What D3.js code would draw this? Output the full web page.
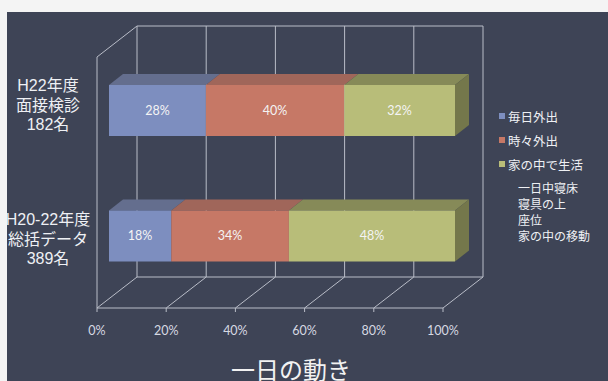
<!DOCTYPE html>
<html>
<head>
<meta charset="utf-8">
<script src="https://cdn.jsdelivr.net/npm/d3@7"></script>
<style>
  html, body { margin: 0; padding: 0; background: #f4f4f4; }
  svg { display: block; }
</style>
</head>
<body>
<svg id="chart" width="608" height="381"></svg>
<script>
// Daily activity: share of each group (stacked to 100%)
const categories = ["H22年度\n面接検診\n182名", "H20-22年度\n総括データ\n389名"];
const seriesNames = ["毎日外出", "時々外出", "家の中で生活"];
const everyDayOut = [0.28, 0.18];
const sometimesOut = [0.40, 0.34];
const stayHome = [0.32, 0.48];
const extraLegend = ["一日中寝床", "寝具の上", "座位", "家の中の移動"];
const tickValues = [0, 0.2, 0.4, 0.6, 0.8, 1.0];
const title = "一日の動き";

const seriesValues = [everyDayOut, sometimesOut, stayHome];
const frontColors = ["#7d8ebf", "#c67866", "#b8bd79"];
const topColors = ["#646e8e", "#a0665a", "#868a58"];
const sideColor = "#74774b";

const svg = d3.select("#chart");
const W = 608, H = 381;

// slide background
svg.append("rect").attr("width", W).attr("height", H).attr("fill", "#f4f4f4");
svg.append("rect").attr("x", 7).attr("y", 12).attr("width", W - 7).attr("height", H - 12)
  .attr("fill", "#3e4456");

// oblique 3D projection: front plane scales + depth vector
const x = d3.scaleLinear().domain([0, 1]).range([97, 443]);
const y = d3.scaleBand().domain(categories).range([57, 308])
  .paddingInner(0.594).paddingOuter(0.297);
const DX = 40, DY = -31;
const yTop = 57, yBottom = 308;
const P = (v, yy, d) => [x(v) + d * DX, yy + d * DY];
const barFront = 0.3, barBack = 0.65;

const gridColor = "#b9bdc8";
const grid = svg.append("g").attr("stroke", gridColor).attr("stroke-width", 1).attr("fill", "none");
const seg = (a, b) => grid.append("line")
  .attr("x1", a[0]).attr("y1", a[1]).attr("x2", b[0]).attr("y2", b[1]);

// back wall gridlines and top edge
tickValues.forEach(t => seg(P(t, yTop, 1), P(t, yBottom, 1)));
seg(P(0, yTop, 1), P(1, yTop, 1));
// floor
seg(P(0, yBottom, 0), P(1, yBottom, 0));
seg(P(0, yBottom, 1), P(1, yBottom, 1));
tickValues.forEach(t => seg(P(t, yBottom, 0), P(t, yBottom, 1)));
// side wall
seg(P(0, yTop, 0), P(0, yBottom, 0));
seg(P(0, yTop, 0), P(0, yTop, 1));
// tick marks
tickValues.forEach(t => seg(P(t, yBottom, 0), [x(t), yBottom + 4]));

// tick labels
svg.append("g").selectAll("text").data(tickValues).join("text")
  .attr("x", d => x(d)).attr("y", 330)
  .attr("text-anchor", "middle").attr("dominant-baseline", "central")
  .attr("font-family", "Lato, 'Open Sans', sans-serif").attr("font-size", 12.5)
  .attr("fill", "#d6d9e2")
  .text(d3.format(".0%"));

// stacked 3D bars
const poly = pts => pts.map(p => p.join(",")).join(" ");
const bars = svg.append("g");
categories.forEach((c, ci) => {
  let acc = 0;
  const y0 = y(c), y1 = y(c) + y.bandwidth();
  seriesValues.forEach((vals, si) => {
    const s0 = acc, s1 = acc + vals[ci];
    acc = s1;
    // top face
    bars.append("polygon")
      .attr("points", poly([P(s0, y0, barFront), P(s1, y0, barFront), P(s1, y0, barBack), P(s0, y0, barBack)]))
      .attr("fill", topColors[si]);
    // front face
    bars.append("polygon")
      .attr("points", poly([P(s0, y0, barFront), P(s1, y0, barFront), P(s1, y1, barFront), P(s0, y1, barFront)]))
      .attr("fill", frontColors[si]);
    // data label
    const a = P((s0 + s1) / 2, (y0 + y1) / 2, barFront);
    bars.append("text")
      .attr("x", a[0]).attr("y", a[1])
      .attr("text-anchor", "middle").attr("dominant-baseline", "central")
      .attr("font-family", "Lato, 'Open Sans', sans-serif").attr("font-size", 12.5)
      .attr("fill", "#f4f4f4")
      .text(d3.format(".0%")(vals[ci]));
  });
  // right end face
  bars.append("polygon")
    .attr("points", poly([P(acc, y0, barFront), P(acc, y0, barBack), P(acc, y1, barBack), P(acc, y1, barFront)]))
    .attr("fill", sideColor);
});

// category labels
const catLabelY = [105, 239];
categories.forEach((c, ci) => {
  const lines = c.split("\n");
  const t = svg.append("text")
    .attr("text-anchor", "middle")
    .attr("font-family", "'Liberation Sans', 'Noto Sans CJK JP', sans-serif")
    .attr("font-size", 16).attr("fill", "#eef0f4");
  lines.forEach((ln, li) => {
    t.append("tspan").attr("x", 48)
      .attr("y", catLabelY[ci] + (li - 1) * 19.5)
      .attr("dominant-baseline", "central")
      .text(ln);
  });
});

// legend
const legend = svg.append("g")
  .attr("font-family", "'Noto Sans CJK JP', sans-serif").attr("font-size", 12.5)
  .attr("fill", "#eef0f4");
seriesNames.forEach((n, i) => {
  const cy = 116 + i * 24;
  legend.append("rect").attr("x", 499).attr("y", cy - 3).attr("width", 6).attr("height", 6)
    .attr("fill", frontColors[i]);
  legend.append("text").attr("x", 508).attr("y", cy)
    .attr("dominant-baseline", "central").text(n);
});
// multi-line legend entry without a swatch
const extra = legend.append("text").attr("font-size", 12);
extraLegend.forEach((n, i) => {
  extra.append("tspan").attr("x", 518).attr("y", 187 + i * 16)
    .attr("dominant-baseline", "central").text(n);
});

// title, sitting on the lower edge of the slide
svg.append("text")
  .attr("x", 291).attr("y", 368)
  .attr("text-anchor", "middle").attr("dominant-baseline", "central")
  .attr("font-family", "'Noto Sans CJK JP', sans-serif").attr("font-size", 24)
  .attr("fill", "#f2f2f2")
  .text(title);
</script>
</body>
</html>
